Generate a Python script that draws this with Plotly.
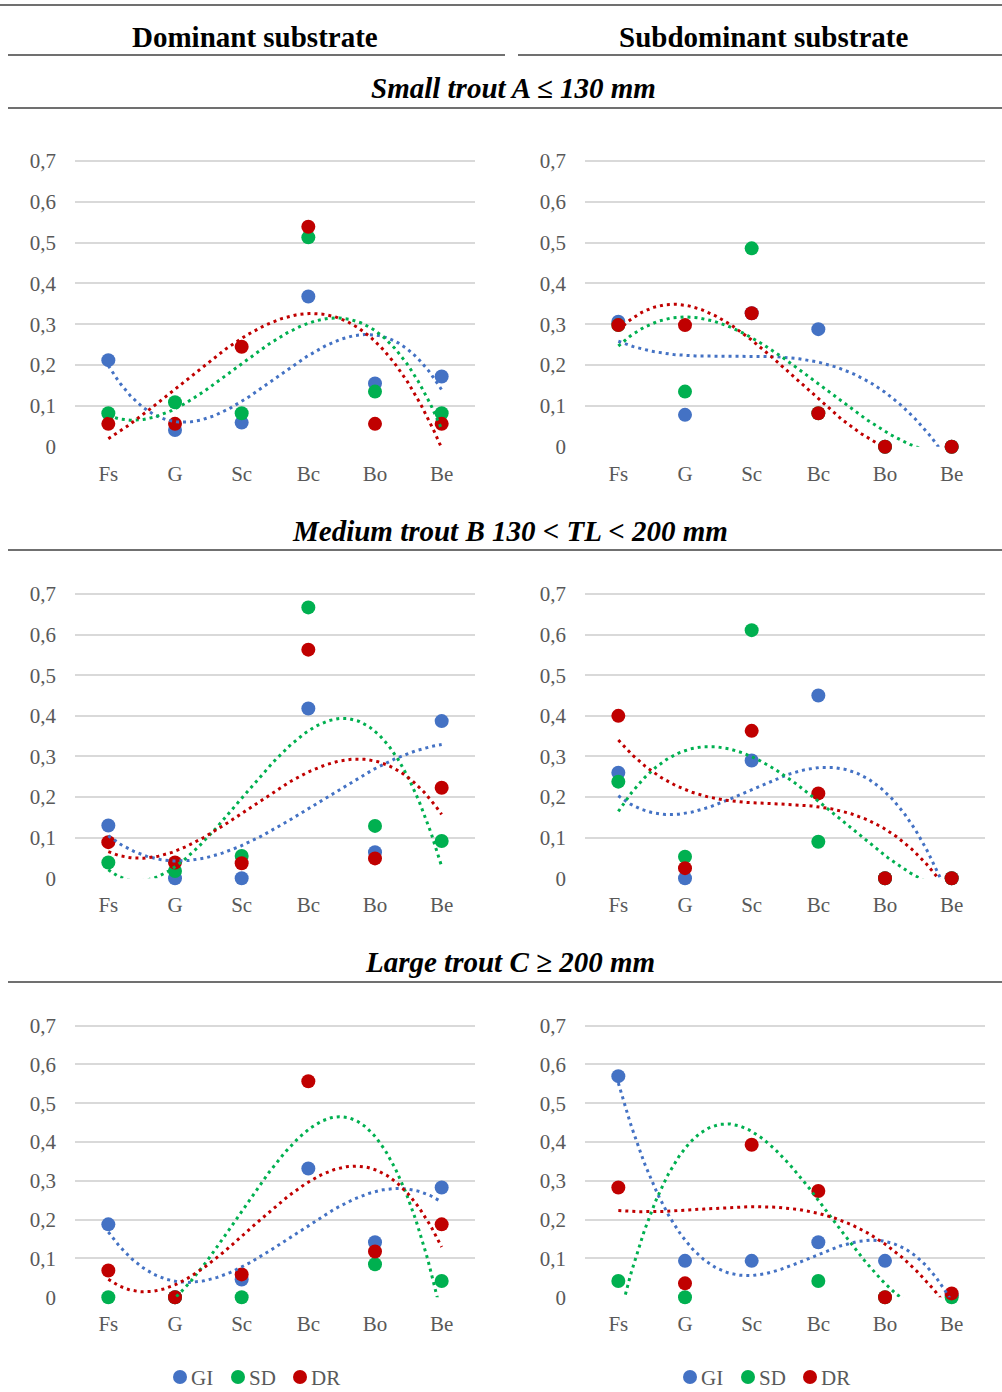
import numpy as np
import plotly.graph_objects as go

categories = ["Fs", "G", "Sc", "Bc", "Bo", "Be"]
series_names = ["GI", "SD", "DR"]
colors = {"GI": "#4472C4", "SD": "#00B050", "DR": "#C00000"}

# Small trout A <= 130 mm
small_dom_GI = [0.212, 0.041, 0.059, 0.368, 0.155, 0.172]
small_dom_SD = [0.082, 0.109, 0.082, 0.513, 0.135, 0.082]
small_dom_DR = [0.056, 0.056, 0.245, 0.539, 0.056, 0.056]
small_sub_GI = [0.306, 0.078, 0.327, 0.288, 0.0, 0.0]
small_sub_SD = [0.298, 0.135, 0.486, 0.082, 0.0, 0.0]
small_sub_DR = [0.298, 0.298, 0.327, 0.082, 0.0, 0.0]
# Medium trout B 130 < TL < 200 mm
med_dom_GI = [0.130, 0.0, 0.0, 0.418, 0.064, 0.387]
med_dom_SD = [0.039, 0.018, 0.055, 0.667, 0.129, 0.092]
med_dom_DR = [0.089, 0.039, 0.037, 0.563, 0.049, 0.223]
med_sub_GI = [0.260, 0.0, 0.290, 0.450, 0.0, 0.0]
med_sub_SD = [0.238, 0.053, 0.611, 0.090, 0.0, 0.0]
med_sub_DR = [0.400, 0.025, 0.363, 0.209, 0.0, 0.0]
# Large trout C >= 200 mm
large_dom_GI = [0.188, 0.0, 0.046, 0.332, 0.142, 0.283]
large_dom_SD = [0.0, 0.0, 0.0, 0.873, 0.085, 0.042]
large_dom_DR = [0.069, 0.0, 0.059, 0.557, 0.118, 0.188]
large_sub_GI = [0.570, 0.094, 0.094, 0.142, 0.094, 0.006]
large_sub_SD = [0.042, 0.0, 0.916, 0.042, 0.0, 0.0]
large_sub_DR = [0.283, 0.036, 0.393, 0.274, 0.0, 0.010]

section_titles = ["Small trout A \u2264 130 mm", "Medium trout B 130 < TL < 200 mm", "Large trout C \u2265 200 mm"]
column_titles = ["Dominant substrate", "Subdominant substrate"]
y_ticks = [0, 0.1, 0.2, 0.3, 0.4, 0.5, 0.6, 0.7]
y_ticktext = ["0", "0,1", "0,2", "0,3", "0,4", "0,5", "0,6", "0,7"]

panels = [
    [{"GI": small_dom_GI, "SD": small_dom_SD, "DR": small_dom_DR},
     {"GI": small_sub_GI, "SD": small_sub_SD, "DR": small_sub_DR}],
    [{"GI": med_dom_GI, "SD": med_dom_SD, "DR": med_dom_DR},
     {"GI": med_sub_GI, "SD": med_sub_SD, "DR": med_sub_DR}],
    [{"GI": large_dom_GI, "SD": large_dom_SD, "DR": large_dom_DR},
     {"GI": large_sub_GI, "SD": large_sub_SD, "DR": large_sub_DR}],
]

W, H = 1002, 1392
def px(x):
    return x / W
def py(y):
    return 1 - y / H

col_x = [(75, 475), (585, 985)]
row_y = [(161, 446.7), (594, 878.3), (1025.7, 1297.3)]
YMAX, YPAD = 0.7, 0.008

FONT = "Liberation Serif, Times New Roman, serif"
GRAY = "#595959"

fig = go.Figure()
xcat = np.arange(1, 7)
xfine = np.linspace(1, 6, 200)

k = 0
for r in range(3):
    for c in range(2):
        k += 1
        xa = "x" if k == 1 else f"x{k}"
        ya = "y" if k == 1 else f"y{k}"
        data = panels[r][c]
        for s in series_names:
            fig.add_trace(go.Scatter(
                x=xcat, y=data[s], mode="markers", xaxis=xa, yaxis=ya,
                marker=dict(size=14, color=colors[s]), cliponaxis=False,
                showlegend=False, hoverinfo="skip"))
        for s in series_names:
            coef = np.polyfit(xcat, np.array(data[s]), 3)
            fig.add_trace(go.Scatter(
                x=xfine, y=np.polyval(coef, xfine), mode="lines", xaxis=xa, yaxis=ya,
                line=dict(color=colors[s], width=3, dash="3px,4px"),
                showlegend=False, hoverinfo="skip"))
        x0, x1 = col_x[c]
        top, bot = row_y[r]
        top_ext = top - YPAD / YMAX * (bot - top)
        xkey = "xaxis" if k == 1 else f"xaxis{k}"
        ykey = "yaxis" if k == 1 else f"yaxis{k}"
        fig.update_layout({
            xkey: dict(domain=[px(x0), px(x1)], anchor=ya, range=[0.5, 6.5],
                       tickvals=list(xcat), ticktext=categories, showgrid=False,
                       zeroline=False, showline=False, ticks="", automargin=False,
                       ticklabelstandoff=12,
                       tickfont=dict(family=FONT, size=21, color=GRAY)),
            ykey: dict(domain=[py(bot), py(top_ext)], anchor=xa, range=[0, YMAX + YPAD],
                       tickvals=y_ticks, ticktext=y_ticktext, showgrid=True,
                       gridcolor="#D9D9D9", gridwidth=1.5, zeroline=False,
                       showline=False, ticks="", ticklabelstandoff=18, automargin=False,
                       tickfont=dict(family=FONT, size=21, color=GRAY)),
        })

shapes = []
def hline(y, xa, xb, color="#404040", width=1.5):
    shapes.append(dict(type="line", xref="paper", yref="paper",
                       x0=px(xa), x1=px(xb), y0=py(y), y1=py(y),
                       line=dict(color=color, width=width)))

hline(5, 0, 1002)
hline(55, 8, 505)
hline(55, 518, 1002)
hline(108, 8, 1002)
hline(550, 8, 1002)
hline(982, 8, 1002)

annotations = []
def text(x, y, t, size, color="black", xanchor="center"):
    annotations.append(dict(xref="paper", yref="paper", x=px(x), y=py(y), text=t,
                            showarrow=False, xanchor=xanchor, yanchor="middle",
                            font=dict(family=FONT, size=size, color=color)))

text(255, 37, "<b>" + column_titles[0] + "</b>", 29)
text(763, 37, "<b>" + column_titles[1] + "</b>", 29)
text(513, 88, "<b><i>" + section_titles[0] + "</i></b>", 29)
text(510, 531, "<b><i>" + section_titles[1] + "</i></b>", 29)
text(510, 962, "<b><i>" + section_titles[2] + "</i></b>", 29)

# legends
for base in (180, 690):
    for i, s in enumerate(series_names):
        cx = base + [0, 58, 120][i]
        shapes.append(dict(type="circle", xref="paper", yref="paper",
                           x0=px(cx - 7), x1=px(cx + 7), y0=py(1377 + 7), y1=py(1377 - 7),
                           fillcolor=colors[s], line=dict(width=0)))
        text(cx + 9, 1378, s, 21, GRAY, xanchor="left")

fig.update_layout(width=W, height=H,
                  margin=dict(l=0, r=0, t=0, b=0, pad=0, autoexpand=False),
                  plot_bgcolor="white", paper_bgcolor="white",
                  shapes=shapes, annotations=annotations, separators=", ")

fig.write_html("out.html")
